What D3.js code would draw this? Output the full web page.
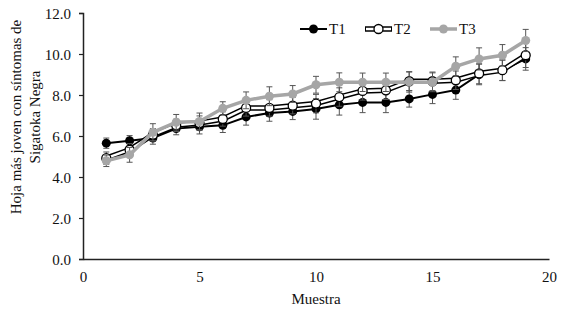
<!DOCTYPE html>
<html><head><meta charset="utf-8">
<script src="https://cdn.jsdelivr.net/npm/d3@7"></script>
<style>
html,body{margin:0;padding:0;background:#fff;}
svg{display:block;font-family:"Liberation Serif","Times New Roman",serif;}
</style></head>
<body>
<svg id="c" width="563" height="310"></svg>
<script>
const muestra = [1,2,3,4,5,6,7,8,9,10,11,12,13,14,15,16,17,18,19];
const t1 = [5.65,5.77,5.9,6.36,6.45,6.52,6.93,7.12,7.2,7.32,7.52,7.64,7.64,7.81,8.03,8.24,9.0,9.2,9.76];
const t2 = [4.92,5.33,6.06,6.52,6.63,6.83,7.37,7.37,7.48,7.58,7.9,8.2,8.23,8.67,8.67,8.72,9.05,9.21,9.94];
const t3 = [4.79,5.08,6.18,6.67,6.71,7.35,7.74,7.94,8.05,8.5,8.62,8.62,8.62,8.64,8.62,9.4,9.76,9.94,10.66];
const e1 = [0.25,0.25,0.3,0.3,0.35,0.35,0.4,0.4,0.4,0.5,0.5,0.5,0.5,0.4,0.45,0.45,0.5,0.5,0.55];
const e2 = [0.3,0.3,0.3,0.3,0.35,0.35,0.4,0.4,0.4,0.45,0.45,0.45,0.45,0.45,0.45,0.45,0.5,0.5,0.6];
const e3 = [0.28,0.36,0.42,0.38,0.41,0.32,0.41,0.46,0.41,0.41,0.46,0.45,0.45,0.5,0.46,0.46,0.54,0.52,0.54];
const seriesNames = ["T1","T2","T3"];
const yTicks = [0,2,4,6,8,10,12];
const xTicks = [0,5,10,15,20];

const svg = d3.select("#c");
const x = d3.scaleLinear().domain([0,20]).range([83,549]);
const y = d3.scaleLinear().domain([0,12]).range([259,13]);
const axisColor = "#222";

// axes
const ya = svg.append("g").attr("transform","translate(83,0)")
  .call(d3.axisLeft(y).tickValues(yTicks).tickFormat(d3.format(".1f")).tickSize(4).tickPadding(8));
ya.select(".domain").attr("stroke",axisColor).attr("stroke-width",1.5);
ya.selectAll(".tick line").attr("stroke",axisColor).attr("stroke-width",1.2);
ya.selectAll("text").attr("font-size",15).attr("fill","#111").attr("font-family","Liberation Serif").attr("dy","0.34em");

const xa = svg.append("g").attr("transform","translate(0,259)")
  .call(d3.axisBottom(x).tickValues(xTicks).tickFormat(d3.format("d")).tickSize(0).tickPadding(12));
xa.select(".domain").attr("stroke",axisColor).attr("stroke-width",1.5);
xa.selectAll("text").attr("font-size",15).attr("fill","#111").attr("font-family","Liberation Serif");

svg.append("text").attr("x",316).attr("y",304).attr("text-anchor","middle")
  .attr("font-size",15).attr("fill","#111").text("Muestra");
const yt = svg.append("text").attr("transform","translate(0,117) rotate(-90)")
  .attr("text-anchor","middle").attr("font-size",15).attr("fill","#111");
yt.append("tspan").attr("x",0).attr("y",21).text("Hoja más joven con síntomas de");
yt.append("tspan").attr("x",0).attr("y",40).text("Sigatoka Negra");

const data = [
  {name:"T1", vals:t1, err:e1},
  {name:"T2", vals:t2, err:e2},
  {name:"T3", vals:t3, err:e3}
];
const line = d3.line().x((d,i)=>x(muestra[i])).y(d=>y(d));

function errBars(s){
  const g = svg.append("g").attr("stroke","#555").attr("stroke-width",1);
  s.vals.forEach((v,i)=>{
    const cx = x(muestra[i]);
    const yt = y(v + s.err[i]), yb = y(v - s.err[i]);
    g.append("line").attr("x1",cx).attr("x2",cx).attr("y1",yt).attr("y2",yb);
    g.append("line").attr("x1",cx-3).attr("x2",cx+3).attr("y1",yt).attr("y2",yt);
    g.append("line").attr("x1",cx-3).attr("x2",cx+3).attr("y1",yb).attr("y2",yb);
  });
}

// T1
errBars(data[0]);
svg.append("path").attr("d",line(t1)).attr("fill","none").attr("stroke","#000").attr("stroke-width",2);
svg.append("g").selectAll("circle").data(t1).join("circle")
  .attr("cx",(d,i)=>x(muestra[i])).attr("cy",d=>y(d)).attr("r",4.5).attr("fill","#000");
// T2
errBars(data[1]);
svg.append("path").attr("d",line(t2)).attr("fill","none").attr("stroke","#000").attr("stroke-width",5.5);
svg.append("path").attr("d",line(t2)).attr("fill","none").attr("stroke","#fff").attr("stroke-width",2.5);
svg.append("g").selectAll("circle").data(t2).join("circle")
  .attr("cx",(d,i)=>x(muestra[i])).attr("cy",d=>y(d)).attr("r",4.5).attr("fill","#fff").attr("stroke","#000").attr("stroke-width",1.3);
// T3
errBars(data[2]);
svg.append("path").attr("d",line(t3)).attr("fill","none").attr("stroke","#a6a6a6").attr("stroke-width",3.5);
svg.append("g").selectAll("circle").data(t3).join("circle")
  .attr("cx",(d,i)=>x(muestra[i])).attr("cy",d=>y(d)).attr("r",4.5).attr("fill","#a6a6a6");

// legend
const lg = svg.append("g");
const lx = [300,365,430];
const ly = 29;
lx.forEach((x0,k)=>{
  if(k===0){
    lg.append("line").attr("x1",x0).attr("x2",x0+27).attr("y1",ly).attr("y2",ly).attr("stroke","#000").attr("stroke-width",2);
    lg.append("circle").attr("cx",x0+13.5).attr("cy",ly).attr("r",4.5).attr("fill","#000");
  } else if(k===1){
    lg.append("line").attr("x1",x0).attr("x2",x0+27).attr("y1",ly).attr("y2",ly).attr("stroke","#000").attr("stroke-width",5.5);
    lg.append("line").attr("x1",x0+1).attr("x2",x0+26).attr("y1",ly).attr("y2",ly).attr("stroke","#fff").attr("stroke-width",2.5);
    lg.append("circle").attr("cx",x0+13.5).attr("cy",ly).attr("r",4.5).attr("fill","#fff").attr("stroke","#000").attr("stroke-width",1.3);
  } else {
    lg.append("line").attr("x1",x0).attr("x2",x0+27).attr("y1",ly).attr("y2",ly).attr("stroke","#a6a6a6").attr("stroke-width",3.5);
    lg.append("circle").attr("cx",x0+13.5).attr("cy",ly).attr("r",4.5).attr("fill","#a6a6a6");
  }
  lg.append("text").attr("x",x0+29).attr("y",ly+5).attr("font-size",15).attr("fill","#111").text(seriesNames[k]);
});
</script>
</body></html>
